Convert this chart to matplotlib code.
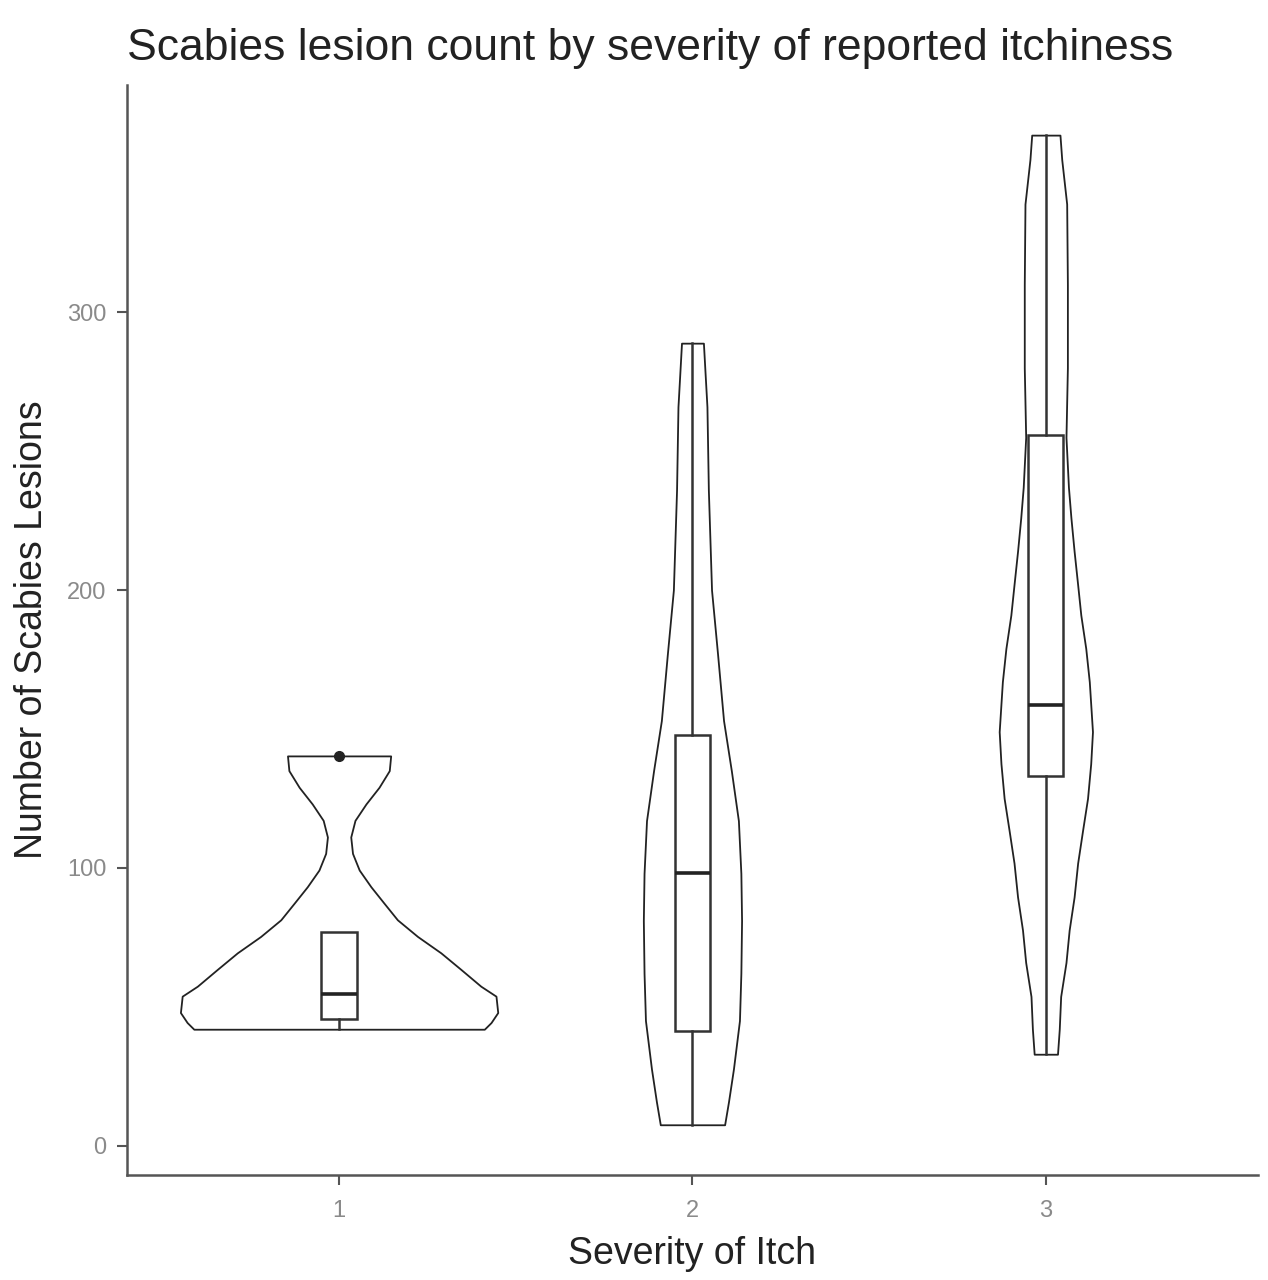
import matplotlib
matplotlib.use("Agg")
import matplotlib.pyplot as plt

plt.rcParams['font.family'] = ['Liberation Sans', 'DejaVu Sans']

# Categories
severity = ["1", "2", "3"]

# Violin outlines: lesion count level and half-width (x units)
v1_levels = [140.3, 135.0, 129.0, 123.0, 117.1, 111.1, 105.2, 99.2, 93.2, 87.3,
             81.3, 75.3, 69.4, 63.4, 57.4, 53.8, 47.9, 44.3, 41.9]
v1_half = [0.146, 0.142, 0.113, 0.076, 0.045, 0.033, 0.038, 0.057, 0.090, 0.127,
           0.165, 0.222, 0.288, 0.345, 0.401, 0.444, 0.449, 0.430, 0.411]

v2_levels = [288.9, 266.0, 236.0, 200.0, 177.0, 153.0, 135.0, 117.0, 98.0, 81.0,
             62.0, 45.0, 27.6, 15.8, 7.5]
v2_half = [0.031, 0.041, 0.045, 0.054, 0.071, 0.088, 0.110, 0.130, 0.137, 0.139,
           0.137, 0.133, 0.116, 0.102, 0.091]

v3_levels = [363.8, 355.0, 339.0, 310.0, 280.0, 255.0, 237.0, 226.0, 214.0, 202.0,
             191.0, 179.0, 167.0, 149.0, 137.5, 125.0, 113.5, 101.7, 89.5, 77.6,
             65.9, 53.7, 41.9, 32.9]
v3_half = [0.040, 0.045, 0.059, 0.061, 0.061, 0.057, 0.064, 0.071, 0.080, 0.090,
           0.099, 0.113, 0.123, 0.132, 0.127, 0.118, 0.104, 0.090, 0.080, 0.066,
           0.057, 0.042, 0.038, 0.033]

# Box plot summaries
q1 = [45.5, 41.2, 133.2]
median = [54.4, 98.3, 158.6]
q3 = [77.0, 147.7, 256.0]
whisker_low = [41.9, 7.5, 32.9]
whisker_high = [77.0, 288.9, 363.8]
outliers = [[140.3], [], []]

fig = plt.figure(figsize=(12.68, 12.8), dpi=100)
ax = fig.add_axes([0.1002, 0.082, 0.8918, 0.8515])

# Violins
for pos, lev, hw in zip([1, 2, 3], [v1_levels, v2_levels, v3_levels],
                        [v1_half, v2_half, v3_half]):
    left = [pos - h for h in hw]
    right = [pos + h for h in hw]
    ax.fill_betweenx(lev, left, right, facecolor='white', edgecolor='#222222',
                     linewidth=1.3, zorder=2)

# Boxes
stats = []
for i in range(3):
    stats.append(dict(med=median[i], q1=q1[i], q3=q3[i], whislo=whisker_low[i],
                      whishi=whisker_high[i], fliers=outliers[i]))
ax.bxp(stats, positions=[1, 2, 3], widths=0.1, showcaps=False, patch_artist=True,
       boxprops=dict(facecolor='white', edgecolor='#333333', linewidth=1.8),
       medianprops=dict(color='#222222', linewidth=2.6),
       whiskerprops=dict(color='#333333', linewidth=1.8),
       flierprops=dict(marker='o', markerfacecolor='#222222', markeredgecolor='#222222',
                       markersize=7),
       zorder=3)

ax.set_xlim(0.4, 3.6)
ax.set_ylim(-10.6, 381.8)
ax.set_xticks([1, 2, 3])
ax.set_xticklabels(severity)
ax.set_yticks([0, 100, 200, 300])

# Classic theme look
for side in ['top', 'right']:
    ax.spines[side].set_visible(False)
for side in ['left', 'bottom']:
    ax.spines[side].set_color('#555555')
    ax.spines[side].set_linewidth(1.8)
ax.tick_params(axis='both', length=7, width=1.5, color='#555555',
               labelcolor='#8a8a8a', labelsize=17)
ax.tick_params(axis='x', pad=11)
ax.tick_params(axis='y', pad=8)

ax.set_xlabel("Severity of Itch", fontsize=27, color='#222222', labelpad=10)
ax.set_ylabel("Number of Scabies Lesions", fontsize=27, color='#222222', labelpad=12)
ax.set_title("Scabies lesion count by severity of reported itchiness",
             fontsize=32, loc='left', color='#222222', pad=18)

fig.savefig("out.png", dpi=100)
